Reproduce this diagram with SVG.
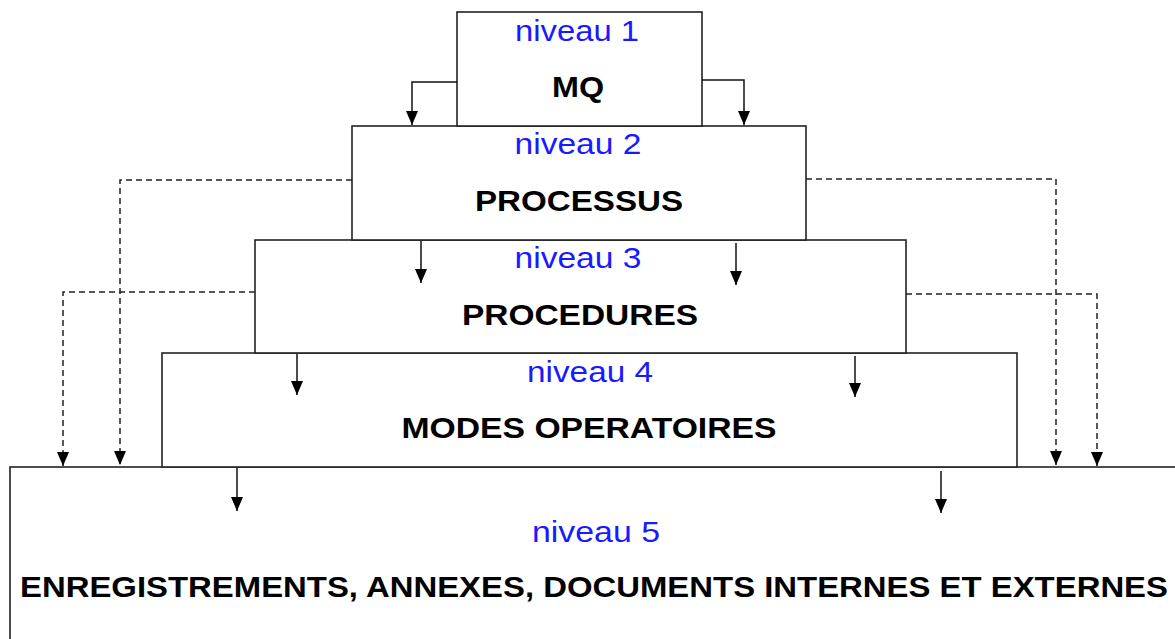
<svg xmlns="http://www.w3.org/2000/svg" width="1175" height="639" viewBox="0 0 1175 639">
<style>
.box{fill:#fff;stroke:#222;stroke-width:1.6}
.lvl{font-family:"Liberation Sans",Arial,sans-serif;font-size:30px;fill:#1a1aff;text-anchor:middle}
.ttl{font-family:"Liberation Sans",Arial,sans-serif;font-size:30px;font-weight:bold;fill:#000;text-anchor:middle}
.sol{fill:none;stroke:#111;stroke-width:1.5;marker-end:url(#ah)}
.das{fill:none;stroke:#222;stroke-width:1.5;stroke-dasharray:6 4;marker-end:url(#ah)}
</style>
<defs>
<marker id="ah" markerUnits="userSpaceOnUse" markerWidth="14" markerHeight="12" refX="14" refY="6" orient="auto" viewBox="0 0 14 12">
<path d="M0,0 L14,6 L0,12 Z" fill="#000"/>
</marker>
</defs>
<rect width="1175" height="639" fill="#fff"/>
<g id="niveau5"><rect class="box" x="10" y="467" width="1180" height="190"/>
<text class="lvl" x="596" y="542" textLength="128" lengthAdjust="spacingAndGlyphs">niveau 5</text>
<text class="ttl" x="594" y="597" font-size="32" textLength="1148" lengthAdjust="spacingAndGlyphs">ENREGISTREMENTS, ANNEXES, DOCUMENTS INTERNES ET EXTERNES</text></g>
<g id="niveau4"><rect class="box" x="162" y="353" width="855" height="114"/>
<text class="lvl" x="590" y="382" textLength="126" lengthAdjust="spacingAndGlyphs">niveau 4</text>
<text class="ttl" x="589" y="438" textLength="375" lengthAdjust="spacingAndGlyphs">MODES OPERATOIRES</text></g>
<g id="niveau3"><rect class="box" x="255" y="240" width="651" height="113"/>
<text class="lvl" x="578" y="268" textLength="127" lengthAdjust="spacingAndGlyphs">niveau 3</text>
<text class="ttl" x="580" y="325" textLength="236" lengthAdjust="spacingAndGlyphs">PROCEDURES</text></g>
<g id="niveau2"><rect class="box" x="352" y="126" width="454" height="114"/>
<text class="lvl" x="578" y="154" textLength="127" lengthAdjust="spacingAndGlyphs">niveau 2</text>
<text class="ttl" x="579" y="211" textLength="208" lengthAdjust="spacingAndGlyphs">PROCESSUS</text></g>
<g id="niveau1"><rect class="box" x="457" y="12" width="245" height="114"/>
<text class="lvl" x="577" y="41" textLength="124" lengthAdjust="spacingAndGlyphs">niveau 1</text>
<text class="ttl" x="578" y="97" textLength="52" lengthAdjust="spacingAndGlyphs">MQ</text></g>
<g id="connectors">
<path class="sol" d="M457,82 H412 V125"/>
<path class="sol" d="M702,80 H744 V125"/>
<path class="das" d="M352,180 H120 V465"/>
<path class="das" d="M255,292 H63 V466"/>
<path class="das" d="M806,179 H1056 V465"/>
<path class="das" d="M906,294 H1097 V466"/>
<path class="sol" d="M421,241 V283"/>
<path class="sol" d="M736,243 V285"/>
<path class="sol" d="M297,354 V395"/>
<path class="sol" d="M855,356 V397"/>
<path class="sol" d="M237,468 V511"/>
<path class="sol" d="M941,471 V513"/>
</g>
</svg>
